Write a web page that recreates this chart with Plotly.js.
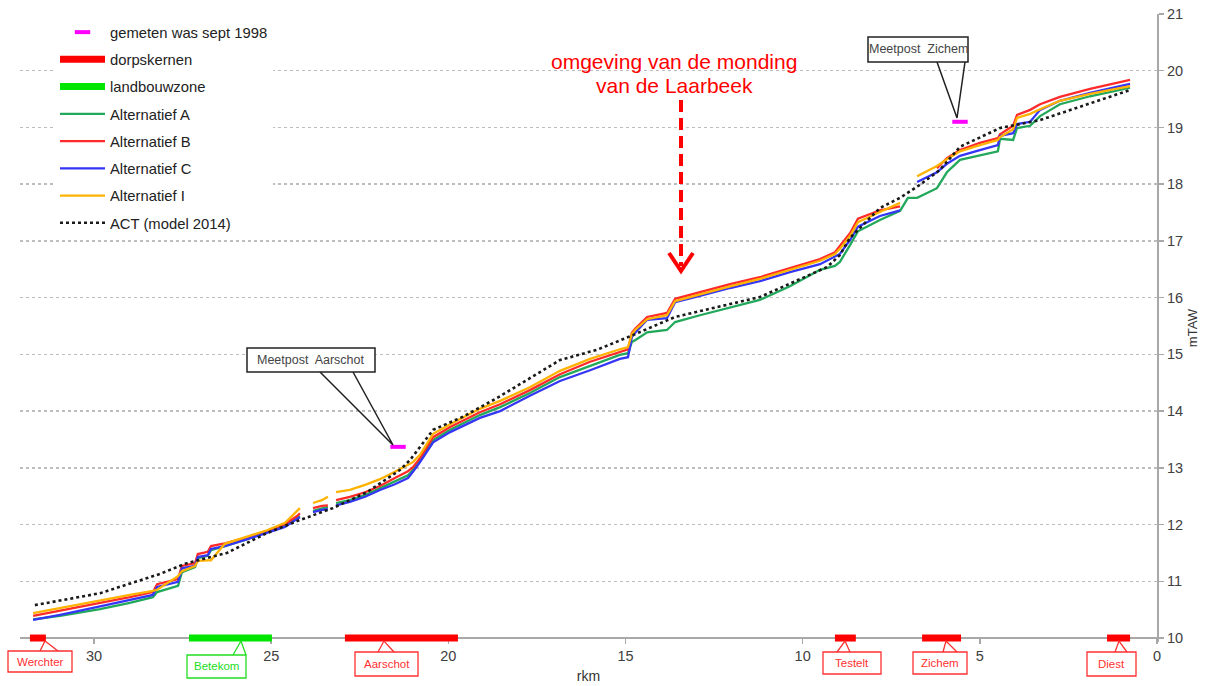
<!DOCTYPE html>
<html>
<head>
<meta charset="utf-8">
<script src="https://cdn.plot.ly/plotly-3.0.1.min.js"></script>
<style>html,body{margin:0;padding:0;background:#fff;}#chart{width:1215px;height:686px;}</style>
</head>
<body>
<div id="chart"></div>
<script>
// ---- data (rkm = river kilometre, values in mTAW) ----
const rkm = [31.72,30.96,29.83,28.99,28.34,28.22,27.63,27.52,27.15,27.07,26.79,26.70,26.31,25.74,25.12,24.61,24.27,24.19,24.05,23.82,23.57,23.40,23.29,23.17,22.78,22.35,21.93,21.51,21.14,21.00,20.80,20.43,19.95,19.11,18.54,17.70,16.85,16.00,15.16,14.93,14.82,14.73,14.39,13.83,13.60,12.90,12.05,11.21,10.36,9.51,9.09,8.95,8.66,8.44,7.82,7.25,7.03,6.77,6.21,5.93,5.56,5.00,4.49,4.43,4.06,3.95,3.58,3.30,2.74,1.89,0.76];

const altA = [10.33,10.39,10.51,10.62,10.72,10.81,10.92,11.16,11.25,11.41,11.45,11.55,11.62,11.73,11.87,11.99,12.12,12.15,null,12.24,12.29,12.31,null,12.38,12.43,12.52,12.64,12.77,12.87,12.96,13.14,13.49,13.67,13.93,14.07,14.32,14.60,14.79,14.99,15.02,15.22,15.25,15.39,15.43,15.57,15.69,15.83,15.96,16.20,16.49,16.56,16.63,16.93,17.17,17.37,17.53,17.76,17.76,17.93,18.21,18.43,18.51,18.58,18.80,18.78,18.99,19.03,19.20,19.41,19.55,19.70];

const altB = [10.39,10.48,10.62,10.72,10.81,10.95,11.04,11.27,11.32,11.48,11.52,11.62,11.67,11.76,11.89,12.01,12.15,12.20,null,12.29,12.33,12.34,null,12.43,12.49,12.57,12.68,12.82,12.94,13.01,13.17,13.54,13.72,13.98,14.12,14.37,14.65,14.87,15.04,15.09,15.38,15.45,15.66,15.73,15.98,16.10,16.24,16.36,16.52,16.68,16.80,16.91,17.14,17.39,17.54,17.61,null,null,18.28,18.46,18.60,18.73,18.81,18.88,19.03,19.22,19.31,19.41,19.54,19.68,19.84];

const altC = [10.32,10.41,10.56,10.67,10.76,10.90,10.99,11.23,11.27,11.43,11.46,11.57,11.62,11.73,11.85,11.96,12.10,12.13,null,12.22,12.26,12.27,null,12.34,12.40,12.49,12.61,12.71,12.82,12.93,13.10,13.45,13.63,13.88,14.00,14.27,14.53,14.72,14.92,14.95,15.31,15.38,15.61,15.64,15.92,16.03,16.17,16.29,16.45,16.59,16.72,16.77,17.02,17.25,17.44,17.54,null,18.04,18.21,18.36,18.50,18.60,18.69,18.85,18.90,19.06,19.10,19.31,19.47,19.61,19.77];

const altI = [10.44,10.53,10.67,10.76,10.83,10.85,11.09,11.18,11.27,11.36,11.37,11.37,11.66,11.78,11.90,12.03,12.24,12.29,null,12.38,12.43,12.49,null,12.57,12.61,12.70,12.80,12.93,13.05,13.10,13.23,13.60,13.77,14.04,14.18,14.42,14.71,14.92,15.09,15.13,15.36,15.43,15.62,15.69,15.94,16.06,16.20,16.33,16.49,16.65,16.77,16.86,17.09,17.33,17.51,17.67,null,18.14,18.32,18.44,18.58,18.69,18.78,18.83,18.97,19.17,19.24,19.32,19.47,19.59,19.73];

const actRkm   = [31.67,29.83,28.14,27.38,26.25,25.12,24.19,23.26,22.30,21.37,21.08,20.43,19.59,18.63,17.78,16.85,15.81,14.79,13.60,11.21,9.31,8.95,8.67,7.82,7.25,6.69,6.13,5.56,4.43,3.30,0.76];
const actLevel = [10.58,10.79,11.13,11.32,11.50,11.85,12.08,12.29,12.57,12.96,13.14,13.67,13.90,14.23,14.55,14.90,15.08,15.34,15.66,16.01,16.54,16.75,17.05,17.58,17.76,17.99,18.25,18.66,18.99,19.13,19.66];

const meetRkm   = [21.42, 5.56];
const meetLevel = [13.37, 19.10];

const dorpStart = [31.81, 22.92, 9.09, 6.63, 1.41];
const dorpEnd   = [31.36, 19.73, 8.50, 5.53, 0.76];
const landStart = [27.32];
const landEnd   = [24.98];
const baseLevel = 10;

const xTicks = [0,5,10,15,20,25,30];
const yTicks = [10,11,12,13,14,15,16,17,18,19,20,21];

// ---- build segment traces ----
function segs(starts, ends){
  const x=[], y=[];
  starts.forEach((s,i)=>{ x.push(s, ends[i], null); y.push(baseLevel, baseLevel, null); });
  return {x, y};
}
const dorp = segs(dorpStart, dorpEnd);
const land = segs(landStart, landEnd);

const FONT = 'Liberation Sans, Arial, Helvetica, sans-serif';

const traces = [
  {name:'gemeten was sept 1998', x:meetRkm, y:meetLevel, mode:'markers', legendgroup:'g1',
   marker:{symbol:'line-ew', size:11, color:'#ff00ff', line:{color:'#ff00ff', width:4}}},
  {name:'dorpskernen', x:dorp.x, y:dorp.y, mode:'lines', legendgroup:'g2',
   line:{color:'#ff0000', width:7}},
  {name:'landbouwzone', x:land.x, y:land.y, mode:'lines', legendgroup:'g3',
   line:{color:'#00e600', width:7}},
  {name:'Alternatief A', x:rkm, y:altA, mode:'lines', legendgroup:'g4',
   line:{color:'#22a85a', width:2.3}},
  {name:'Alternatief B', x:rkm, y:altB, mode:'lines', legendgroup:'g5',
   line:{color:'#ff2a2a', width:2.3}},
  {name:'Alternatief C', x:rkm, y:altC, mode:'lines', legendgroup:'g6',
   line:{color:'#3535f5', width:2.3}},
  {name:'Alternatief I', x:rkm, y:altI, mode:'lines', legendgroup:'g7',
   line:{color:'#ffb300', width:2.3}},
  {name:'ACT (model 2014)', x:actRkm, y:actLevel, mode:'lines', legendgroup:'g8',
   line:{color:'#1a1a1a', width:2.6, dash:'dot'}}
];

// ---- decoration helpers (pixel -> paper) ----
const PL=20, PR=1157, PT=14, PB=642;
const xp = px => (px-PL)/(PR-PL);
const yp = py => (PB-py)/(PB-PT);
const pt = (px,py) => xp(px).toFixed(5)+','+yp(py).toFixed(5);

const annotations = [];
const shapes = [];

// Laarbeek note
annotations.push({xref:'paper', yref:'paper', x:xp(674), y:yp(62), text:'omgeving van de monding', showarrow:false,
  xanchor:'center', yanchor:'middle', font:{family:FONT, size:21, color:'#ff0000'}});
annotations.push({xref:'paper', yref:'paper', x:xp(674), y:yp(86), text:'van de Laarbeek', showarrow:false,
  xanchor:'center', yanchor:'middle', font:{family:FONT, size:21, color:'#ff0000'}});
shapes.push({type:'line', xref:'paper', yref:'paper', x0:xp(681), y0:yp(100), x1:xp(681), y1:yp(266),
  line:{color:'#ff0000', width:4, dash:'12px,6px'}});
shapes.push({type:'path', xref:'paper', yref:'paper', path:'M'+pt(669,253)+' L'+pt(681,271)+' L'+pt(693,253),
  line:{color:'#ff0000', width:4}});

// Meetpost callouts
const meetBoxes = [
  {text:'Meetpost  Aarschot', x0:247, y0:348, x1:375, y1:372, b1:320, b2:353, tip:[393,445]},
  {text:'Meetpost  Zichem',   x0:868, y0:37,  x1:968, y1:62,  b1:937, b2:965, tip:[957,118]}
];
meetBoxes.forEach(b=>{
  shapes.push({type:'path', xref:'paper', yref:'paper',
    path:'M'+pt(b.b1,b.y1)+' L'+pt(b.tip[0],b.tip[1])+' L'+pt(b.b2,b.y1), line:{color:'#222', width:1.5}});
  shapes.push({type:'rect', xref:'paper', yref:'paper', x0:xp(b.x0), x1:xp(b.x1), y0:yp(b.y1), y1:yp(b.y0),
    line:{color:'#222', width:1.5}, fillcolor:'#ffffff'});
  annotations.push({xref:'paper', yref:'paper', x:xp((b.x0+b.x1)/2), y:yp((b.y0+b.y1)/2), text:b.text,
    showarrow:false, xanchor:'center', yanchor:'middle', font:{family:FONT, size:12.5, color:'#444'}});
});

// town callouts under the axis
const townNames  = ['Werchter','Betekom','Aarschot','Testelt','Zichem','Diest'];
const townColors = ['#ff3030','#22dd22','#ff3030','#ff3030','#ff3030','#ff3030'];
const townBox = [[8,651,72,672],[187,655,246,678],[355,652,418,676],[823,652,881,674],[913,652,967,674],[1087,652,1136,676]];
const townTail = [[40,45,58],[233,241,246],[378,384,394],[837,845,850],[943,946,957],[1115,1119,1127]];
townNames.forEach((n,i)=>{
  const b=townBox[i], t=townTail[i], c=townColors[i];
  shapes.push({type:'rect', xref:'paper', yref:'paper', x0:xp(b[0]), x1:xp(b[2]), y0:yp(b[3]), y1:yp(b[1]),
    line:{color:c, width:1.3}, fillcolor:'#ffffff'});
  shapes.push({type:'path', xref:'paper', yref:'paper',
    path:'M'+pt(t[0],b[1])+' L'+pt(t[1],641)+' L'+pt(t[2],b[1]), line:{color:c, width:1.3}});
  annotations.push({xref:'paper', yref:'paper', x:xp((b[0]+b[2])/2), y:yp((b[1]+b[3])/2), text:n,
    showarrow:false, xanchor:'center', yanchor:'middle', font:{family:FONT, size:11.5, color:c}});
});

const layout = {
  width:1215, height:686,
  margin:{l:PL, r:1215-PR, t:PT, b:686-PB, pad:0},
  paper_bgcolor:'#ffffff', plot_bgcolor:'#ffffff',
  font:{family:FONT, color:'#333'},
  showlegend:true,
  legend:{x:xp(55), y:yp(16), xanchor:'left', yanchor:'top', bgcolor:'#ffffff', borderwidth:0,
    traceorder:'grouped', tracegroupgap:5, itemwidth:45,
    font:{family:FONT, size:14.8, color:'#222'}},
  xaxis:{range:[32.09,0], anchor:'free', position:(10-9.93)/(21-9.93), showgrid:false, zeroline:false,
    showline:true, linecolor:'#a8a8a8', linewidth:2, ticks:'outside', ticklen:5, tickwidth:1.5, tickcolor:'#a8a8a8',
    tickvals:xTicks, ticktext:xTicks.map(String), tickfont:{family:FONT, size:14.5, color:'#404040'},
    title:{text:'rkm', font:{family:FONT, size:14, color:'#333'}, standoff:7}, layer:'below traces'},
  yaxis:{range:[9.93,21], side:'right', showgrid:true, gridcolor:'#bdbdbd', griddash:'dot', gridwidth:1.5,
    zeroline:false, showline:true, linecolor:'#a8a8a8', linewidth:2, ticks:'outside', ticklen:5, tickwidth:1.5,
    tickcolor:'#a8a8a8', tickvals:yTicks, ticktext:yTicks.map(String), tickfont:{family:FONT, size:14.5, color:'#404040'},
    title:{text:'mTAW', font:{family:FONT, size:13, color:'#333'}, standoff:6}, layer:'below traces'},
  annotations, shapes
};

Plotly.newPlot('chart', traces, layout, {displayModeBar:false, staticPlot:true});
</script>
</body>
</html>
